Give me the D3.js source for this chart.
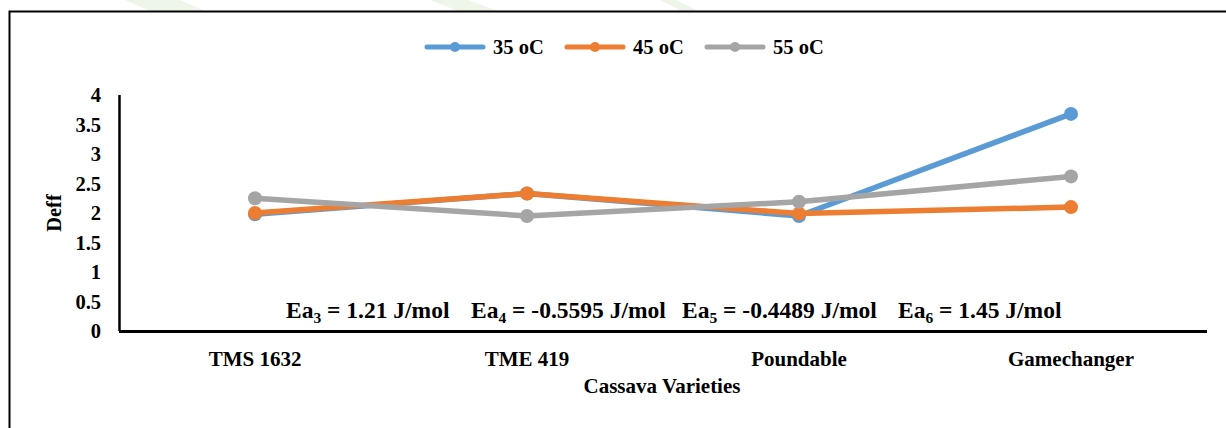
<!DOCTYPE html>
<html>
<head>
<meta charset="utf-8">
<script src="https://cdn.jsdelivr.net/npm/d3@7"></script>
<style>
  html, body { margin: 0; padding: 0; background: #fff; }
  svg { display: block; }
  text { font-family: "Liberation Serif", "Times New Roman", serif; }
</style>
</head>
<body>
<svg id="chart" width="1226" height="428"></svg>
<script>
// ---- data ----
const categories = ["TMS 1632", "TME 419", "Poundable", "Gamechanger"];
const seriesNames = ["35 oC", "45 oC", "55 oC"];
const values35 = [1.98, 2.33, 1.95, 3.68];
const values45 = [2.00, 2.33, 1.99, 2.10];
const values55 = [2.25, 1.95, 2.19, 2.62];
const yTicks = [0, 0.5, 1, 1.5, 2, 2.5, 3, 3.5, 4];
const yTickLabels = ["0", "0.5", "1", "1.5", "2", "2.5", "3", "3.5", "4"];
const xTitle = "Cassava Varieties";
const yTitle = "Deff";
const eaLabels = [
  { sub: "3", value: " = 1.21 J/mol" },
  { sub: "4", value: " = -0.5595 J/mol" },
  { sub: "5", value: " = -0.4489 J/mol" },
  { sub: "6", value: " = 1.45 J/mol" }
];

// ---- styles / layout ----
const colors = ["#5B9BD5", "#ED7D31", "#A5A5A5"];
const seriesData = [values35, values45, values55];
const svg = d3.select("#chart");

// faint watermark strokes at top
const wm = [
  [[125,0],[180,0],[205,11],[150,11]],
  [[430,0],[468,0],[498,11],[458,11]],
  [[660,0],[676,0],[698,11],[682,11]]
];
svg.selectAll("polygon.wm").data(wm).enter().append("polygon")
  .attr("class","wm")
  .attr("points", d => d.map(p => p.join(",")).join(" "))
  .attr("fill", "#eef6ea");

// outer frame
svg.append("rect").attr("x", 9.5).attr("y", 11.5).attr("width", 1400).attr("height", 600)
  .attr("fill", "none").attr("stroke", "#000").attr("stroke-width", 2);

const pLeft = 119, pRight = 1207, pTop = 95, pBottom = 331;
const x = d3.scaleBand().domain(categories).range([pLeft, pRight]);
const y = d3.scaleLinear().domain([0, 4]).range([pBottom, pTop]);
const cx = c => x(c) + x.bandwidth() / 2;

// y axis (labels only + line)
const yAxis = d3.axisLeft(y).tickValues(yTicks)
  .tickFormat((d, i) => yTickLabels[i]).tickSize(0).tickPadding(18);
const gy = svg.append("g").attr("transform", `translate(${pLeft},0)`).call(yAxis);
gy.select(".domain").remove();
gy.selectAll("text").attr("font-size", 20.5).attr("font-weight", "bold")
  .attr("fill", "#000").attr("font-family", "Liberation Serif, serif");
svg.append("line").attr("x1", pLeft + 0.5).attr("x2", pLeft + 0.5)
  .attr("y1", pTop).attr("y2", pBottom).attr("stroke", "#000").attr("stroke-width", 2.5);

// x axis
const xAxis = d3.axisBottom(x).tickSize(0).tickPadding(20);
const gx = svg.append("g").attr("transform", `translate(0,${pBottom})`).call(xAxis);
gx.select(".domain").remove();
gx.selectAll("text").attr("font-size", 21).attr("font-weight", "bold")
  .attr("fill", "#000").attr("font-family", "Liberation Serif, serif");
svg.append("line").attr("x1", pLeft).attr("x2", pRight)
  .attr("y1", pBottom + 0.5).attr("y2", pBottom + 0.5).attr("stroke", "#000").attr("stroke-width", 3);

// titles
svg.append("text").attr("x", (pLeft + pRight) / 2 - 1).attr("y", 393)
  .attr("text-anchor", "middle").attr("font-size", 21).attr("font-weight", "bold").text(xTitle);
svg.append("text").attr("transform", "translate(61,213) rotate(-90)")
  .attr("text-anchor", "middle").attr("font-size", 20.5).attr("font-weight", "bold").text(yTitle);

// series lines + markers
const line = d3.line().x((d, i) => cx(categories[i])).y(d => y(d));
seriesData.forEach((vals, s) => {
  svg.append("path").datum(vals).attr("d", line).attr("fill", "none")
    .attr("stroke", colors[s]).attr("stroke-width", 5.5)
    .attr("stroke-linejoin", "round").attr("stroke-linecap", "round");
  svg.selectAll(null).data(vals).enter().append("circle")
    .attr("cx", (d, i) => cx(categories[i])).attr("cy", d => y(d))
    .attr("r", 7).attr("fill", colors[s]);
});

// Ea annotations
const eaX = [286, 471, 682, 898];
eaLabels.forEach((e, i) => {
  const t = svg.append("text").attr("x", eaX[i]).attr("y", 318)
    .attr("font-size", 23.5).attr("font-weight", "bold").attr("fill", "#000");
  t.append("tspan").text("Ea");
  t.append("tspan").attr("font-size", 15.5).attr("dy", 5).text(e.sub);
  t.append("tspan").attr("dy", -5).text(e.value);
});

// legend
const legX = [427, 567, 707];
seriesNames.forEach((n, i) => {
  const g = svg.append("g");
  g.append("line").attr("x1", legX[i]).attr("x2", legX[i] + 56)
    .attr("y1", 47).attr("y2", 47).attr("stroke", colors[i]).attr("stroke-width", 5)
    .attr("stroke-linecap", "round");
  g.append("circle").attr("cx", legX[i] + 28).attr("cy", 47).attr("r", 5).attr("fill", colors[i]);
  g.append("text").attr("x", legX[i] + 66).attr("y", 53.5)
    .attr("font-size", 20.5).attr("font-weight", "bold").text(n);
});
</script>
</body>
</html>
